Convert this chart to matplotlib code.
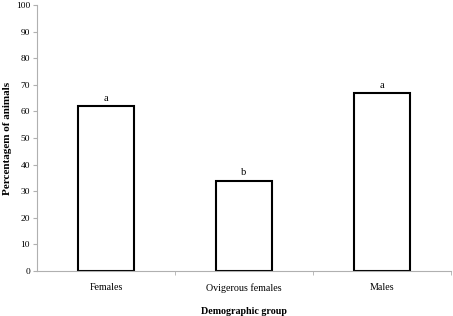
import matplotlib.pyplot as plt
import numpy as np

# dados
grupos = ['Females', 'Ovigerous females', 'Males']
percentagens = [62, 34, 67]
letras = ['a', 'b', 'a']

plt.rcParams['font.family'] = 'Liberation Serif'

fig = plt.figure(figsize=(4.53, 3.16), dpi=100)
ax = fig.add_axes([37 / 453, 45 / 316, 414 / 453, 266 / 316])

x = np.arange(len(grupos))
ax.bar(x, percentagens, width=0.4, color='white', edgecolor='black', linewidth=1.5)

for xi, v, l in zip(x, percentagens, letras):
    ax.text(xi, v + 1.2, l, ha='center', va='bottom', fontsize=7.5)

ax.set_xlim(-0.5, len(grupos) - 0.5)
ax.set_ylim(0, 100)
ax.set_yticks(range(0, 101, 10))
ax.tick_params(axis='y', labelsize=6.8, length=3, color='#b0b0b0', pad=2)

# ticks de x entre categorias
ax.set_xticks(x)
ax.set_xticklabels(grupos, fontsize=7.2)
ax.tick_params(axis='x', length=0, pad=9)
ax.set_xticks([0.5, 1.5, 2.5], minor=True)
ax.tick_params(axis='x', which='minor', length=3, color='#b0b0b0')

for s in ['top', 'right']:
    ax.spines[s].set_visible(False)
for s in ['left', 'bottom']:
    ax.spines[s].set_color('#b0b0b0')
    ax.spines[s].set_linewidth(0.8)

ax.set_ylabel('Percentagem of animals', fontsize=8, fontweight='bold')
ax.yaxis.set_label_coords(-0.061, 0.5)
ax.set_xlabel('Demographic group', fontsize=7.2, fontweight='bold', labelpad=10)

fig.savefig('out.png', dpi=100)
